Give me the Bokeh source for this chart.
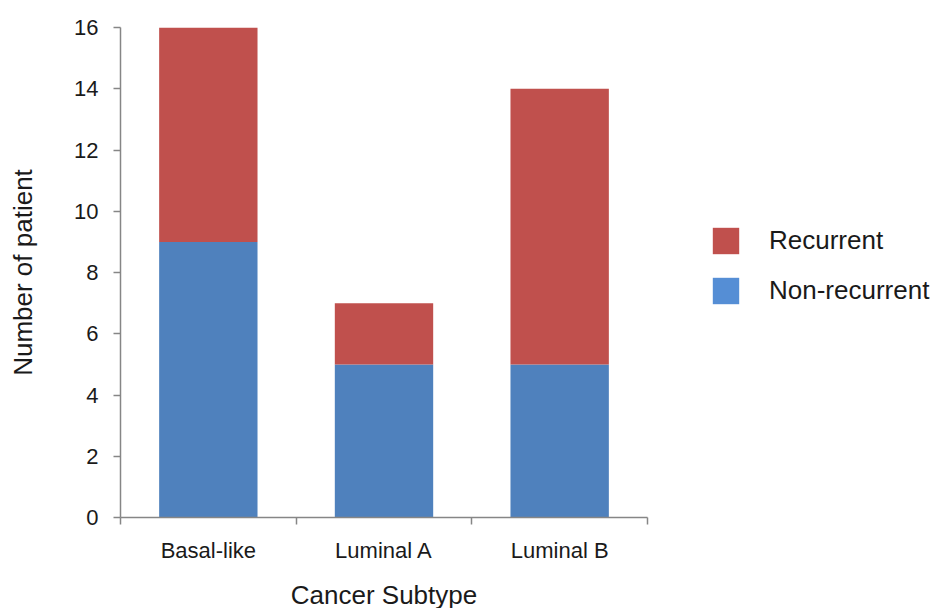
from bokeh.plotting import figure
from bokeh.models import FixedTicker, Legend, LegendItem, ColumnDataSource, Range1d
from bokeh.embed import file_html
from bokeh.resources import INLINE

categories = ["Basal-like", "Luminal A", "Luminal B"]
non_recurrent = [9, 5, 5]
recurrent = [7, 2, 9]
y_ticks = [0, 2, 4, 6, 8, 10, 12, 14, 16]
series_names = ["Non-recurrent", "Recurrent"]

bar_colors = ["#4F81BD", "#C0504D"]
legend_colors = ["#558ED5", "#C0504D"]
FONT = "Liberation Sans"

xs = [i + 0.5 for i in range(len(categories))]
source = ColumnDataSource(dict(x=xs, non=non_recurrent, rec=recurrent,
                               zero=[0] * len(xs)))

p = figure(frame_width=527, frame_height=490, x_range=Range1d(0, len(categories)),
           y_range=Range1d(0, max(y_ticks)), output_backend="svg",
           toolbar_location=None, min_border_left=120, min_border_right=0,
           min_border_top=27, min_border_bottom=88)

p.vbar_stack(["non", "rec"], x="x", width=0.56, source=source,
             color=bar_colors, line_color=None)

# legend proxies (zero-height bars, only for legend swatches)
r_non = p.vbar(x="x", top="zero", bottom="zero", width=0.5, source=source,
               fill_color=legend_colors[0], line_color=None)
r_rec = p.vbar(x="x", top="zero", bottom="zero", width=0.5, source=source,
               fill_color=legend_colors[1], line_color=None)

legend = Legend(items=[LegendItem(label=series_names[1], renderers=[r_rec]),
                       LegendItem(label=series_names[0], renderers=[r_non])],
                margin=0, padding=0,
                glyph_width=33, glyph_height=33, label_standoff=27, spacing=17,
                border_line_alpha=0, background_fill_alpha=0,
                label_text_font=FONT, label_text_font_size="26px",
                label_text_color="#1a1a1a")
legend.location = (62, 210)
p.add_layout(legend, "right")

p.grid.visible = False
p.outline_line_color = None
p.background_fill_color = "white"

# x axis: boundary ticks as minor ticks, labels at centers
p.xaxis.ticker = FixedTicker(ticks=xs, minor_ticks=list(range(len(categories) + 1)))
p.xaxis.major_label_overrides = {x: c for x, c in zip(xs, categories)}
p.xaxis.major_tick_out = 0
p.xaxis.major_tick_in = 0
p.xaxis.minor_tick_out = 7
p.xaxis.minor_tick_in = 0
p.xaxis.axis_label = "Cancer Subtype"
p.xaxis.major_label_standoff = 13
p.xaxis.axis_label_standoff = 14

p.yaxis.ticker = FixedTicker(ticks=y_ticks, minor_ticks=[])
p.yaxis.major_tick_out = 7
p.yaxis.major_tick_in = 0
p.yaxis.axis_label = "Number of patient"
p.yaxis.major_label_standoff = 15
p.yaxis.axis_label_standoff = 33

for ax in (p.xaxis, p.yaxis):
    ax.axis_line_color = "#868686"
    ax.major_tick_line_color = "#868686"
    ax.minor_tick_line_color = "#868686"
    ax.axis_line_width = 1.5
    ax.major_tick_line_width = 1.5
    ax.minor_tick_line_width = 1.5
    ax.major_label_text_font = FONT
    ax.major_label_text_font_size = "22px"
    ax.major_label_text_color = "#1a1a1a"
    ax.axis_label_text_font = FONT
    ax.axis_label_text_font_size = "26px"
    ax.axis_label_text_font_style = "normal"
    ax.axis_label_text_color = "#1a1a1a"

open("out.html", "w").write(file_html(p, INLINE))
